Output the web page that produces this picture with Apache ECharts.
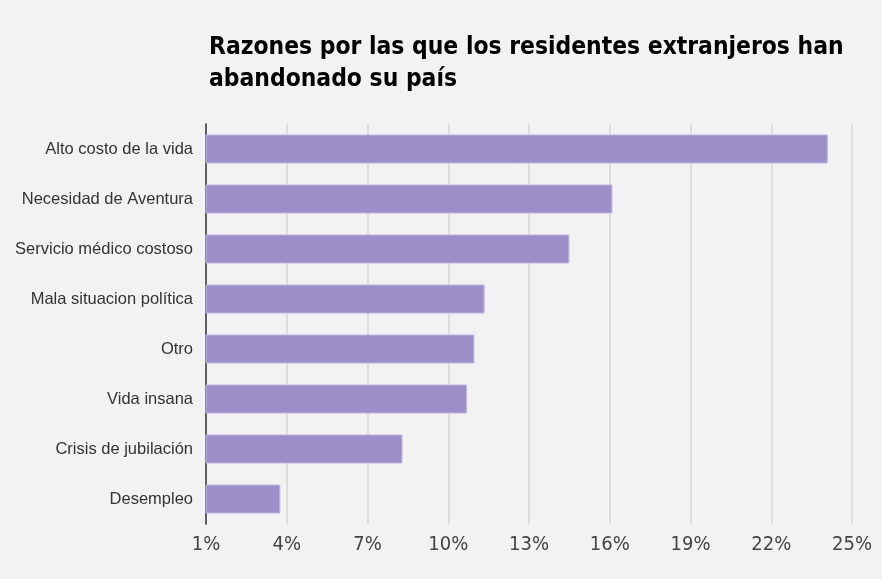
<!DOCTYPE html>
<html>
<head>
<meta charset="utf-8">
<script src="https://cdn.jsdelivr.net/npm/echarts@6/dist/echarts.min.js"></script>
<style>
html,body{margin:0;padding:0;background:#f2f2f2;}
#c{width:882px;height:579px;}
</style>
</head>
<body>
<div id="c"></div>
<script>
const titleText = 'Razones por las que los residentes extranjeros han\nabandonado su país';
const categories = [
  'Alto costo de la vida',
  'Necesidad de Aventura',
  'Servicio médico costoso',
  'Mala situacion política',
  'Otro',
  'Vida insana',
  'Crisis de jubilación',
  'Desempleo'
];
const values = [24.1, 16.1, 14.5, 11.35, 10.97, 10.7, 8.3, 3.76];
const axisMin = 1, axisMax = 25, axisStep = 3;

const chart = echarts.init(document.getElementById('c'));
chart.setOption({
  backgroundColor: '#f2f2f2',
  animation: false,
  title: {
    text: titleText,
    left: 204,
    top: 27,
    textStyle: {
      fontFamily: '"DejaVu Sans Condensed", "DejaVu Sans", sans-serif',
      fontWeight: 'bold',
      fontSize: 24.4,
      lineHeight: 32,
      color: '#000'
    }
  },
  grid: { left: 206, right: 30, top: 124, bottom: 55, containLabel: false },
  xAxis: {
    type: 'value',
    min: axisMin,
    max: axisMax,
    interval: axisStep,
    axisLine: { show: false },
    axisTick: { show: false },
    splitLine: { show: true, lineStyle: { color: '#d6d6d6', width: 1.5 } },
    axisLabel: {
      formatter: v => v + '%',
      color: '#444',
      fontSize: 20,
      margin: 11,
      fontFamily: '"DejaVu Sans Condensed", "DejaVu Sans", sans-serif'
    }
  },
  yAxis: {
    type: 'category',
    data: categories,
    inverse: true,
    axisLine: { show: true, lineStyle: { color: '#333', width: 1.5 } },
    axisTick: { show: false },
    splitLine: { show: false },
    axisLabel: {
      color: '#333',
      fontSize: 16.5,
      margin: 13,
      fontFamily: '"Liberation Sans", Arial, sans-serif'
    }
  },
  series: [{
    type: 'bar',
    data: values,
    barCategoryGap: '42%',
    itemStyle: { color: '#9b8ec9', borderColor: '#c0b6e4', borderWidth: 1 }
  }]
});
</script>
</body>
</html>
